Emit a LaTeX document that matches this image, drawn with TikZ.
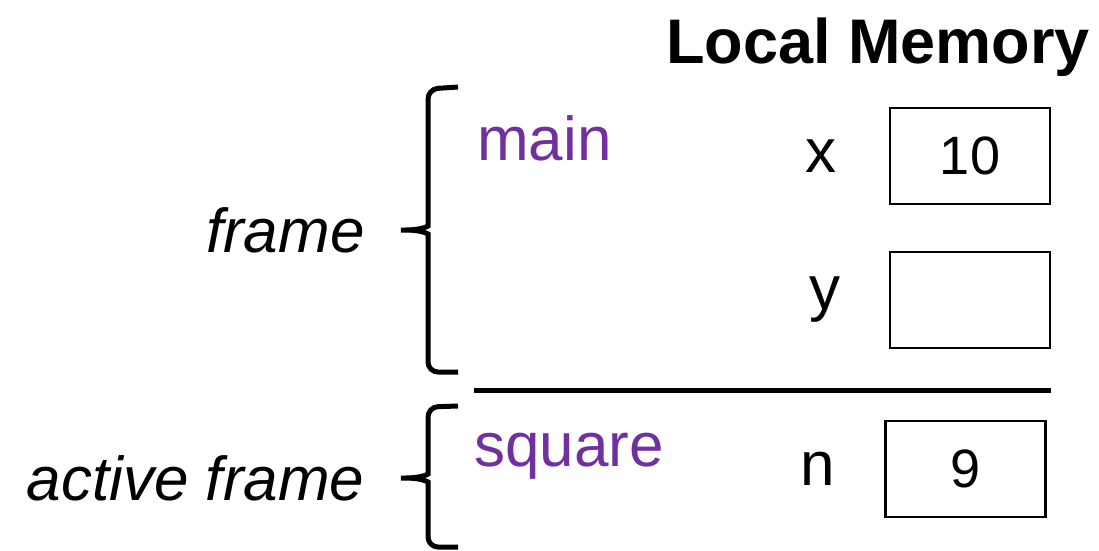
\documentclass[tikz,border=0pt]{standalone}
\usepackage{fontspec}
\setmainfont{Liberation Sans}
\usetikzlibrary{positioning}
\definecolor{framepurple}{RGB}{112,48,160}

\begin{document}
\begin{tikzpicture}[x=1pt,y=-1pt,inner sep=0,
    every node/.style={font=\fontsize{62}{74}\selectfont},
    cell/.style={draw,line width=2.5pt,minimum width=160pt,minimum height=96pt,font=\fontsize{54}{64}\selectfont},
    fname/.style={text=framepurple,anchor=base west},
    curly/.style={line width=5pt,rounded corners=10pt}]
    \useasboundingbox (0,0) rectangle (1099,550);
    % Place nodes
    \node [anchor=base east,font=\fontsize{63}{74}\selectfont\bfseries] (title) at (1090,63) {Local Memory};
    \node [fname] (main) at (477,160) {main};
    \node [fname] (square) at (474,466) {square};
    \node [cell] (xbox) at (970,156) {10};
    \node [cell] (ybox) at (970,300) {};
    \node [cell] (nbox) at (965.5,469) {9};
    \node [left=52pt of xbox] (x) {x};
    \node [left=48pt of ybox] (y) {y};
    \node [left=49pt of nbox] (n) {n};

    % frame divider
    \coordinate (s0) at (474,390);
    \coordinate (s1) at (1051,390);
    \draw [line width=5pt] (s0) -- (s1);

    % braces
    \draw [curly] (458,87) -- (428,89) -- (428,216)
        .. controls (428,226) and (422,230) .. (395,230) node [left=28pt] (fr) {\itshape frame}
        .. controls (422,230) and (428,234) .. (428,244) -- (428,372) -- (458,372);
    \draw [curly] (458,406) -- (428,407) -- (428,464)
        .. controls (428,474) and (422,478) .. (395,478) node [left=28pt] (afr) {\itshape active frame}
        .. controls (422,478) and (428,482) .. (428,492) -- (428,547) -- (458,547);
\end{tikzpicture}
\end{document}
